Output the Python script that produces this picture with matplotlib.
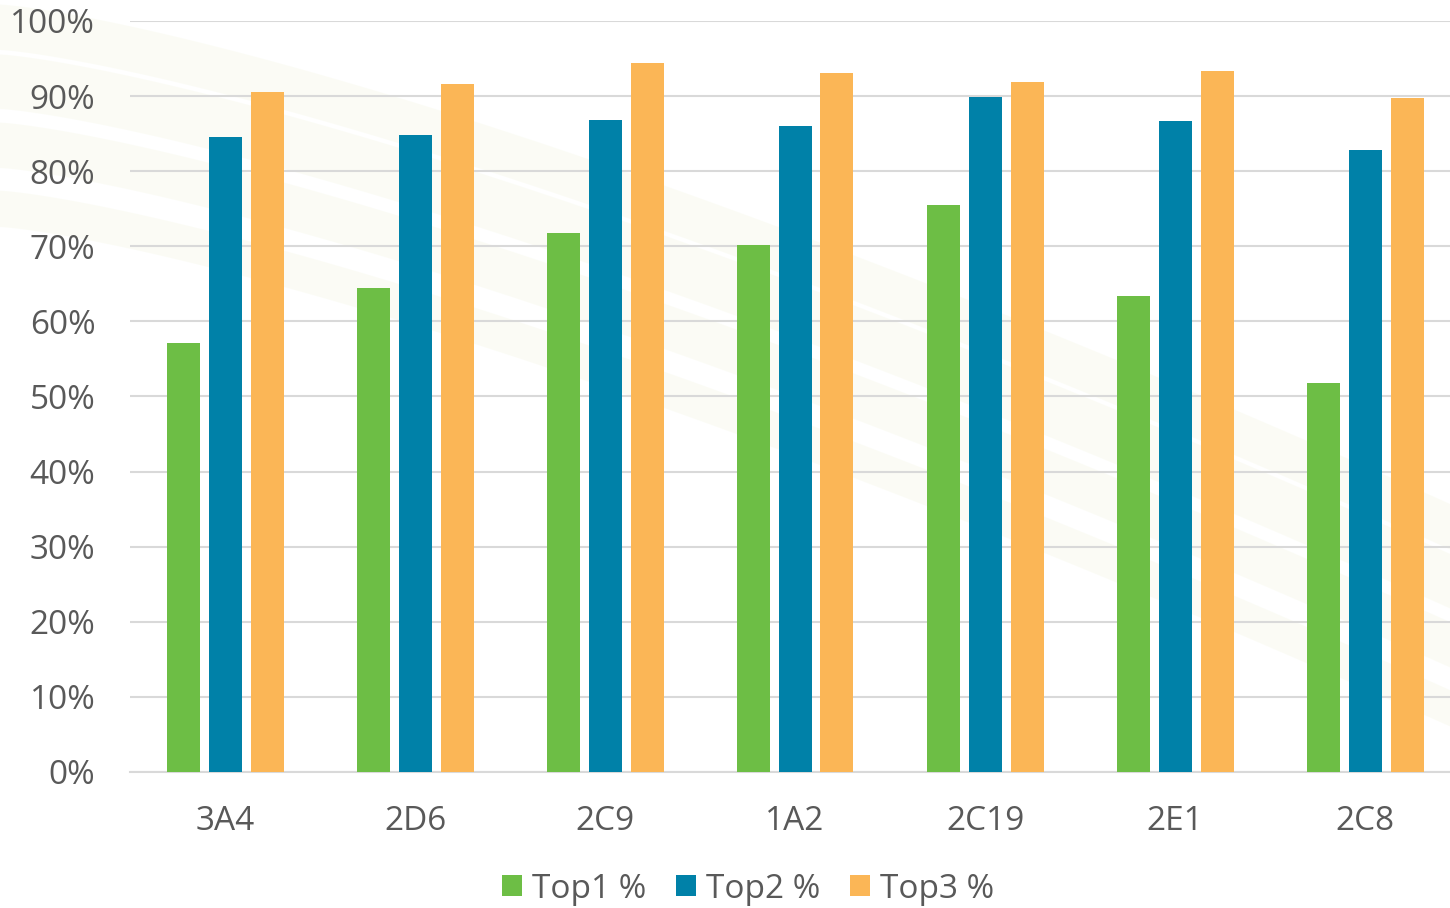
import matplotlib
matplotlib.use("Agg")
import matplotlib.pyplot as plt
import numpy as np

categories = ["3A4", "2D6", "2C9", "1A2", "2C19", "2E1", "2C8"]
top1 = [57.1, 64.4, 71.8, 70.2, 75.5, 63.4, 51.8]
top2 = [84.6, 84.8, 86.8, 86.0, 89.9, 86.7, 82.8]
top3 = [90.5, 91.6, 94.4, 93.1, 91.9, 93.3, 89.7]
series_names = ["Top1 %", "Top2 %", "Top3 %"]
colors = ["#6DBE45", "#0081A8", "#FBB656"]
yticks = [0, 10, 20, 30, 40, 50, 60, 70, 80, 90, 100]

plt.rcParams['font.family'] = ['Open Sans', 'DejaVu Sans']
W, H = 1450, 908
fig = plt.figure(figsize=(W / 100, H / 100), dpi=100)

# faint background swooshes
bg = fig.add_axes([0, 0, 1, 1], zorder=0)
bg.set_xlim(0, 1); bg.set_ylim(0, 1); bg.axis('off')
xs = np.linspace(0, 1, 200)
for off, w in [(0.0, 0.025), (0.06, 0.03), (0.13, 0.025), (0.2, 0.02)]:
    yc = 0.97 - off - 0.55 * xs ** 1.3
    bg.fill_between(xs, yc - w, yc + w, color="#f8f9ec", alpha=0.5, lw=0)

ax = fig.add_axes([130 / W, (H - 772) / H, 1330 / W, 751 / H], zorder=1)
ax.patch.set_alpha(0)
x = np.arange(len(categories))
bw = 33 / 190
offs = [-42 / 190, 0, 42 / 190]
for vals, name, c, o in zip([top1, top2, top3], series_names, colors, offs):
    ax.bar(x + o, vals, width=bw, color=c, label=name, zorder=3)

ax.set_xlim(-0.5, 6.5)
ax.set_ylim(0, 100)
ax.set_yticks(yticks)
ax.set_yticklabels([f"{v}%" for v in yticks])
ax.set_xticks(x)
ax.set_xticklabels(categories)
ax.yaxis.grid(True, color="#d9d9d9", lw=1.5, zorder=0)
ax.set_axisbelow(True)
for s in ["top", "right", "left"]:
    ax.spines[s].set_visible(False)
ax.spines["bottom"].set_color("#d9d9d9")
ax.spines["bottom"].set_linewidth(1.5)
ax.tick_params(axis='y', length=0, pad=25, labelsize=24, labelcolor="#595959")
ax.tick_params(axis='x', length=0, pad=24, labelsize=24, labelcolor="#595959")

leg = fig.legend(loc='center', bbox_to_anchor=(748 / W, (H - 889) / H), ncol=3,
                 frameon=False, fontsize=24, handlelength=0.6, handleheight=0.6,
                 handletextpad=0.3, columnspacing=0.9, labelcolor="#595959")

fig.savefig("out.png", dpi=100)
